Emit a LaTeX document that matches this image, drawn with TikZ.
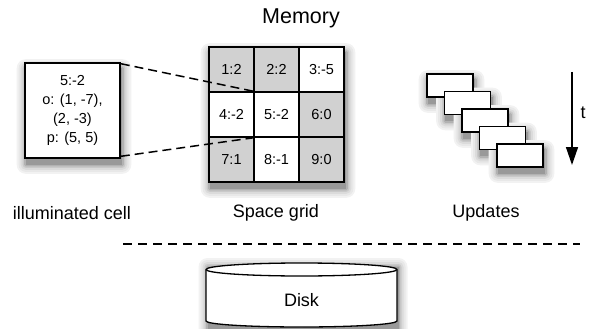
\documentclass[tikz,border=0pt]{standalone}
\usepackage{fontspec}
\setmainfont{Liberation Sans}
\usetikzlibrary{arrows.meta}
\definecolor{cellgray}{HTML}{D1D1D1}
\definecolor{shadeA}{gray}{0.95}
\definecolor{shadeB}{gray}{0.91}
\definecolor{shadeC}{gray}{0.86}
\definecolor{shadeD}{gray}{0.79}
\definecolor{shadeE}{gray}{0.70}
\definecolor{shadeF}{gray}{0.60}
\tikzset{
  framebox/.style={draw=black, line width=1.6pt, fill=white},
  cell/.style={draw=black, line width=1.6pt, minimum size=45pt, inner sep=0pt, font=\fontsize{14.5}{17}\selectfont},
  graycell/.style={cell, fill=cellgray},
  whitecell/.style={cell, fill=white},
  caption/.style={font=\fontsize{18}{20}\selectfont, inner sep=0pt},
  update/.style={framebox, minimum width=46pt, minimum height=23pt, inner sep=0pt},
  dashlink/.style={line width=1.5pt, dash pattern=on 9pt off 5pt},
  separator/.style={line width=1.5pt, dash pattern=on 9pt off 6pt},
}
% soft drop shadow of the box (#1,#2)-(#3,#4): grey rounded rectangles,
% largest and palest first
\newcommand\shadowrect[4]{%
  \fill[shadeA, rounded corners=9pt] ($(#1,#2)+(-9,-9)$) rectangle ($(#3,#4)+(9,9)$);
  \fill[shadeB, rounded corners=7pt] ($(#1,#2)+(-7,-7)$) rectangle ($(#3,#4)+(7,7)$);
  \fill[shadeC, rounded corners=5pt] ($(#1,#2)+(-5,-5)$) rectangle ($(#3,#4)+(5,5)$);
  \fill[shadeD, rounded corners=3pt] ($(#1,#2)+(-3,-3)$) rectangle ($(#3,#4)+(3,3)$);
  \fill[shadeE, rounded corners=1.5pt] ($(#1,#2)+(-1.5,-1.5)$) rectangle ($(#3,#4)+(1.5,1.5)$);
  \fill[shadeF] (#1,#2) rectangle (#3,#4);
}
\usetikzlibrary{calc}
\begin{document}
\begin{tikzpicture}[x=1pt,y=-1pt]
\useasboundingbox (0,0) rectangle (589,329);

% ---- drop shadows first, so every shape sits on top ----
\shadowrect{25.7}{68.2}{122.3}{164.8}
\shadowrect{209.7}{52.2}{346.3}{188.8}
\shadowrect{427.7}{79.2}{475.3}{103.8}
\shadowrect{445.2}{96.7}{492.8}{121.3}
\shadowrect{462.7}{114.2}{510.3}{138.8}
\shadowrect{480.2}{131.7}{527.8}{156.3}
\shadowrect{497.7}{149.2}{545.3}{173.8}
\shadowrect{207.5}{267}{398.5}{333}

% memory title
\node[caption, font=\fontsize{21.5}{24}\selectfont] (memory) at (301,18) {Memory};

% the illuminated cell
\node[framebox, minimum width=95pt, minimum height=95pt, inner sep=0pt,
      align=center, font=\fontsize{14.5}{19}\selectfont] (illum) at (72.5,110.5)
      {5:-2\\o: (1, -7),\\(2, -3)\\p: (5, 5)};
\node[caption] (illumlabel) at (72,213) {illuminated cell};

% the 3x3 space grid
\node[framebox, minimum size=135pt, inner sep=0pt] (grid) at (276.5,114.5) {};
\node[graycell]  (g1) at (231.5,69.5)  {1:2};
\node[graycell]  (g2) at (276.5,69.5)  {2:2};
\node[whitecell] (g3) at (321.5,69.5)  {3:-5};
\node[whitecell] (g4) at (231.5,114.5) {4:-2};
\node[whitecell] (g5) at (276.5,114.5) {5:-2};
\node[graycell]  (g6) at (321.5,114.5) {6:0};
\node[graycell]  (g7) at (231.5,159.5) {7:1};
\node[whitecell] (g8) at (276.5,159.5) {8:-1};
\node[graycell]  (g9) at (321.5,159.5) {9:0};
\node[caption] (gridlabel) at (276,213) {Space grid};

% zoom lines from cell 5 to its detail box
\draw[dashlink] ([yshift=-1.5pt]illum.north east) -- (g5.north west);
\draw[dashlink] ([yshift=2.5pt]illum.south east) -- (g5.south west);

% stream of updates
\foreach \i in {0,...,4} {
  \node[update] (u\i) at (450+17.5*\i, 85.5+17.5*\i) {};
}
\node[caption] (updlabel) at (486,213) {Updates};

% time arrow
\coordinate (tstart) at (572,72);
\coordinate (tend) at (572,165);
\draw[line width=1.5pt, -{Triangle[length=18pt,width=12pt]}] (tstart) -- (tend);
\node[caption] (tlabel) at (583,113) {t};

% memory / disk separator
\coordinate (sepL) at (123,244);
\coordinate (sepR) at (580,244);
\draw[separator] (sepL) -- (sepR);

% disk cylinder
\draw[line width=1.3pt, fill=white]
  (206,269.5) -- (206,321) arc[start angle=180, end angle=0, x radius=95.5, y radius=6]
  -- (397,269.5) arc[start angle=360, end angle=180, x radius=95.5, y radius=6.5] -- cycle;
\draw[line width=1.3pt] (206,269.5) arc[start angle=180, end angle=0, x radius=95.5, y radius=6.5];
\node[caption] (disk) at (301.5,300) {Disk};
\end{tikzpicture}
\end{document}
